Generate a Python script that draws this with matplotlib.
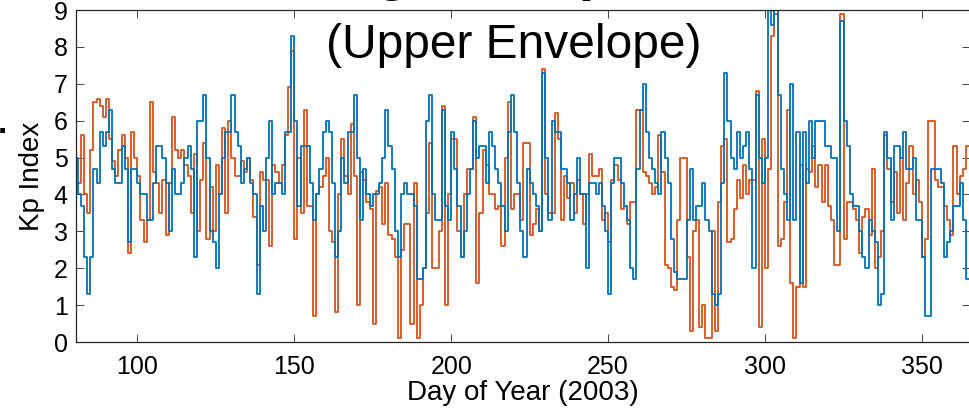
import matplotlib
matplotlib.use("Agg")
import matplotlib.pyplot as plt
import numpy as np

plt.rcParams['font.family'] = ['Liberation Sans', 'DejaVu Sans']

# daily upper-envelope Kp, day-of-year 80..365
day = np.arange(80, 366)

kp_measured = [
    5.0, 4.0, 3.7, 2.3, 1.3, 2.3, 4.7, 4.3, 5.7, 5.3,   # 80
    5.7, 6.3, 4.7, 4.3, 4.3, 5.3, 4.7, 2.7, 4.7, 4.7,   # 90
    4.3, 4.0, 4.0, 3.3, 3.3, 4.3, 5.3, 5.3, 5.0, 4.3,   # 100
    3.0, 4.7, 4.0, 4.0, 4.3, 5.0, 5.3, 4.7, 2.3, 6.0,   # 110
    6.0, 6.7, 5.0, 3.0, 2.7, 2.0, 4.0, 5.0, 5.7, 5.7,   # 120
    6.7, 5.7, 5.3, 4.3, 4.7, 5.0, 4.3, 4.0, 1.3, 3.7,   # 130
    3.0, 5.0, 6.0, 4.0, 4.3, 4.3, 4.0, 5.7, 5.7, 8.3,   # 140
    6.0, 3.7, 5.3, 5.3, 5.3, 4.3, 3.3, 4.0, 4.7, 5.7,   # 150
    6.0, 5.7, 4.3, 2.3, 3.0, 5.0, 4.3, 5.7, 5.7, 6.7,   # 160
    5.0, 3.3, 4.7, 4.0, 3.7, 4.0, 4.0, 4.3, 5.0, 6.3,   # 170
    5.3, 4.7, 3.0, 2.3, 4.0, 4.3, 4.0, 4.0, 3.7, 1.7,   # 180
    1.7, 2.0, 6.0, 6.7, 4.0, 3.3, 3.3, 6.3, 3.7, 3.3,   # 190
    5.7, 4.7, 3.7, 2.3, 3.0, 4.0, 4.7, 6.0, 5.0, 5.3,   # 200
    5.3, 4.3, 5.7, 5.3, 4.7, 4.3, 3.7, 3.0, 5.7, 6.7,   # 210
    5.7, 4.3, 3.0, 2.3, 4.7, 4.3, 4.0, 3.7, 3.0, 7.3,   # 220
    5.0, 3.3, 6.0, 5.7, 5.7, 4.7, 4.7, 4.3, 3.3, 4.0,   # 230
    5.0, 4.0, 4.0, 2.0, 4.3, 4.3, 4.0, 4.3, 3.7, 3.0,   # 240
    1.3, 4.3, 5.0, 5.0, 4.3, 3.7, 3.3, 2.0, 1.7, 4.7,   # 250
    6.3, 7.0, 5.7, 5.0, 4.7, 4.3, 4.0, 5.7, 5.0, 4.3,   # 260
    2.8, 1.9, 1.7, 1.7, 1.7, 3.3, 4.7, 3.3, 3.7, 3.7,   # 270
    4.3, 3.3, 3.0, 1.3, 1.0, 1.3, 4.3, 7.3, 6.0, 5.0,   # 280
    4.7, 5.7, 5.0, 5.3, 5.7, 4.7, 2.0, 6.7, 5.0, 4.3,   # 290
    5.0, 9.5, 8.6, 9.5, 6.7, 4.7, 4.0, 3.3, 7.0, 3.3,   # 300
    5.7, 1.6, 5.7, 4.3, 6.0, 5.0, 6.0, 6.0, 6.0, 5.3,   # 310
    5.3, 5.0, 5.0, 3.0, 8.7, 6.0, 5.3, 4.0, 3.7, 3.7,   # 320
    3.0, 2.3, 2.0, 3.3, 3.0, 2.7, 1.0, 1.3, 5.7, 5.0,   # 330
    3.3, 5.3, 5.3, 5.0, 5.7, 4.7, 4.7, 5.0, 3.3, 3.3,   # 340
    2.3, 0.7, 0.7, 4.7, 4.7, 4.7, 4.3, 2.3, 2.7, 3.0,   # 350
    3.7, 3.7, 4.3, 3.3, 1.7, 1.7,                       # 360
]

kp_model = [
    4.3, 4.3, 5.6, 4.0, 3.5, 5.2, 6.5, 6.6, 6.4, 6.1,   # 80
    6.6, 5.5, 4.9, 4.5, 5.2, 5.6, 5.0, 2.4, 5.7, 5.0,   # 90
    4.5, 3.3, 2.7, 3.3, 6.5, 4.6, 4.3, 3.5, 4.4, 2.9,   # 100
    4.3, 6.1, 5.2, 5.0, 5.2, 4.8, 4.5, 3.5, 5.1, 3.0,   # 110
    4.4, 5.4, 2.8, 4.2, 3.0, 4.8, 4.0, 5.8, 3.5, 6.0,   # 120
    5.0, 4.5, 4.5, 4.9, 4.6, 5.0, 4.4, 3.4, 2.1, 4.6,   # 130
    4.4, 4.4, 2.6, 4.8, 4.6, 4.3, 4.8, 5.6, 6.9, 7.9,   # 140
    2.8, 5.0, 3.5, 6.3, 3.7, 3.7, 0.7, 4.0, 4.2, 4.5,   # 150
    5.0, 3.0, 2.7, 0.8, 4.0, 5.5, 4.5, 4.0, 5.9, 4.5,   # 160
    1.0, 4.6, 4.4, 3.8, 3.6, 0.5, 4.1, 4.2, 3.2, 4.3,   # 170
    2.9, 2.8, 2.3, 0.1, 2.5, 3.2, 3.2, 0.5, 4.3, 0.1,   # 180
    1.0, 2.0, 3.5, 5.4, 2.0, 2.0, 3.0, 6.4, 1.0, 4.0,   # 190
    5.5, 5.5, 3.0, 2.3, 4.0, 4.7, 4.7, 6.1, 1.6, 3.5,   # 200
    5.2, 4.8, 4.0, 4.0, 3.6, 3.7, 2.6, 5.0, 6.5, 3.6,   # 210
    4.0, 4.0, 3.3, 5.4, 5.4, 2.9, 3.2, 3.6, 3.0, 7.4,   # 220
    4.0, 3.5, 3.5, 6.2, 5.5, 3.3, 4.5, 3.9, 4.3, 3.5,   # 230
    4.4, 4.0, 3.2, 4.0, 5.1, 4.5, 4.5, 4.7, 3.3, 3.5,   # 240
    2.7, 4.4, 4.8, 4.4, 3.6, 3.7, 3.2, 3.8, 3.8, 6.3,   # 250
    6.3, 4.6, 4.5, 4.3, 4.0, 4.2, 5.6, 4.6, 2.1, 2.0,   # 260
    1.5, 1.4, 3.3, 5.0, 5.0, 2.3, 0.3, 3.0, 3.3, 0.4,   # 270
    1.0, 0.1, 0.1, 3.0, 0.3, 3.8, 5.3, 5.5, 2.7, 2.8,   # 280
    3.6, 4.4, 3.9, 4.8, 4.0, 4.4, 4.4, 6.8, 0.4, 5.5,   # 290
    2.0, 4.7, 8.3, 8.9, 2.6, 2.8, 3.8, 6.3, 1.6, 0.1,   # 300
    1.5, 4.8, 1.5, 4.7, 4.6, 5.3, 4.2, 4.8, 3.8, 4.8,   # 310
    3.7, 3.3, 2.1, 2.1, 8.9, 2.8, 3.8, 3.8, 3.6, 3.3,   # 320
    2.4, 3.4, 3.6, 2.9, 4.7, 2.0, 2.3, 3.0, 5.6, 4.7,   # 330
    3.8, 4.6, 3.5, 5.0, 3.3, 4.3, 5.3, 4.0, 4.4, 3.8,   # 340
    2.3, 2.8, 6.0, 6.0, 4.4, 4.2, 4.2, 3.7, 3.3, 2.9,   # 350
    5.3, 4.0, 4.5, 4.7, 5.3, 5.3,                       # 360
]

xticks = [100, 150, 200, 250, 300, 350]
yticks = list(range(10))

fig = plt.figure(figsize=(9.69, 4.09), dpi=100)
ax = fig.add_axes([76 / 969, 67 / 409, 894 / 969, 332 / 409])

ax.step(day, kp_model, where='post', color='#D95319', lw=1.3)
ax.step(day, kp_measured, where='post', color='#0072BD', lw=1.3)

ax.set_xlim(80.46, 365.3)
ax.set_ylim(0, 9)
ax.set_xticks(xticks)
ax.set_yticks(yticks)
ax.tick_params(direction='in', length=5.5, width=0.6, color='#262626',
               labelsize=18, top=True, right=True, pad=6)
ax.tick_params(axis='x', pad=9)
for s in ax.spines.values():
    s.set_linewidth(0.9)
    s.set_color('#262626')

ax.set_xlabel('Day of Year (2003)', fontsize=20, labelpad=1)
ax.set_ylabel('Kp Index', fontsize=20, labelpad=6)

# two-line title; the bold first line sits mostly above the canvas
fig.text(320 / 969, 1 + 11 / 409, 'Highest Kp', ha='left', va='baseline',
         fontsize=40, fontweight='bold')
fig.text(514 / 969, 1 - 58 / 409, '(Upper Envelope)', ha='center',
         va='baseline', fontsize=34.5)
fig.text(-2 / 969, 1 - 133 / 409, '.', ha='left', va='baseline',
         fontsize=24, fontweight='bold')

fig.savefig('out.png', dpi=100)
